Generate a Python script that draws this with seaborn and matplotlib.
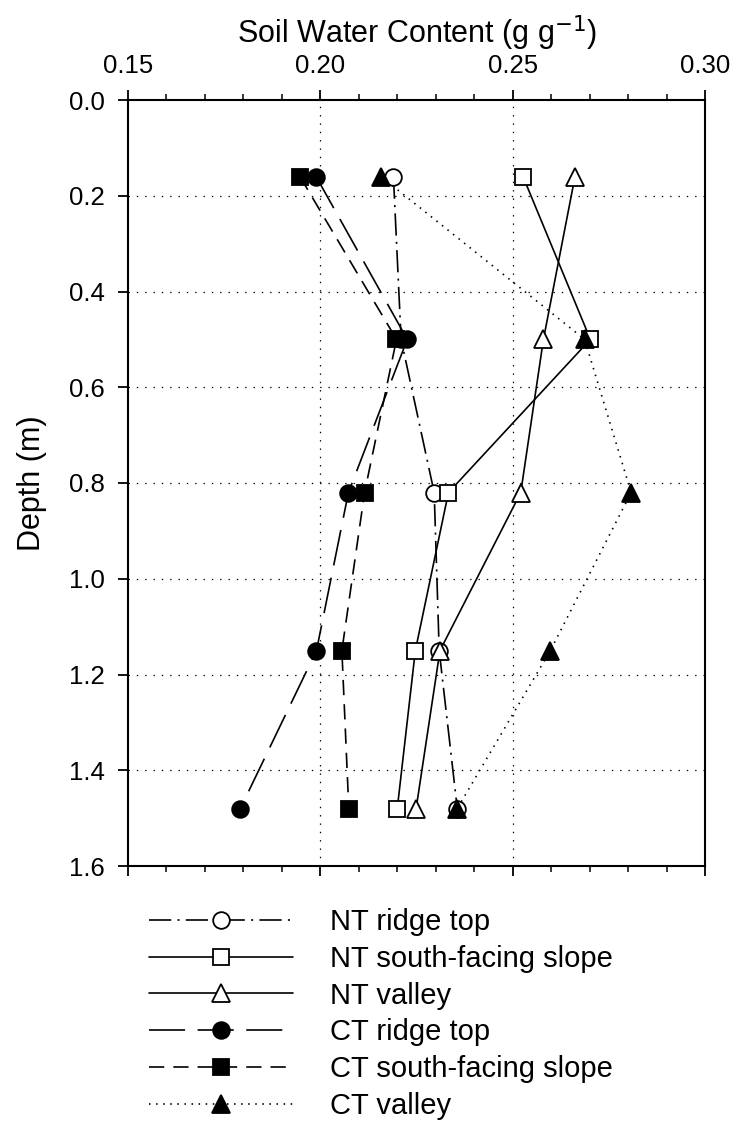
import matplotlib
matplotlib.use("Agg")
import matplotlib.pyplot as plt
import seaborn as sns
import numpy as np
from matplotlib.ticker import MultipleLocator

# ---- data ----
depth = [0.16, 0.50, 0.82, 1.15, 1.48]
nt_ridge = [0.219, 0.221, 0.2296, 0.2309, 0.2356]
nt_south = [0.2527, 0.2702, 0.2333, 0.2247, 0.2200]
nt_valley = [0.2662, 0.2580, 0.2521, 0.2311, 0.2249]
ct_ridge = [0.1989, 0.2226, 0.2073, 0.1990, 0.1792]
ct_south = [0.1947, 0.2198, 0.2115, 0.2056, 0.2074]
ct_valley = [0.2158, 0.2687, 0.2808, 0.2598, 0.2356]
labels = ["NT ridge top", "NT south-facing slope", "NT valley",
          "CT ridge top", "CT south-facing slope", "CT valley"]
x_ticks = [0.15, 0.20, 0.25, 0.30]
y_ticks = [0.0, 0.2, 0.4, 0.6, 0.8, 1.0, 1.2, 1.4, 1.6]

sns.set_theme(style="white")
plt.rcParams["font.family"] = ["Liberation Sans", "DejaVu Sans"]
plt.rcParams["lines.scale_dashes"] = False
plt.rcParams["text.color"] = "black"
plt.rcParams["axes.labelcolor"] = "black"
plt.rcParams["xtick.color"] = "black"
plt.rcParams["ytick.color"] = "black"
TICK_FS = 18.5
LAB_FS = 22
LEG_FS = 21

fig = plt.figure(figsize=(7.34, 11.24), dpi=100)
ax = fig.add_axes([128/734, 1-866/1124, (705-128)/734, (866-100)/1124])

series = [nt_ridge, nt_south, nt_valley, ct_ridge, ct_south, ct_valley]
markers = ["o", "s", "^", "o", "s", "^"]
faces = ["white", "white", "white", "black", "black", "black"]
styles = [(0, (16, 4.5, 1.5, 4.5)), "-", "-", (0, (26, 9)), (0, (11, 6.5)), (0, (1.1, 4))]
msizes = [12, 11, 12.5, 12, 11, 12.5]

for vals, lab, mk, fc, ls, ms in zip(series, labels, markers, faces, styles, msizes):
    sns.lineplot(x=vals, y=depth, sort=False, estimator=None, ax=ax,
                 color="black", linewidth=1.2, linestyle=ls, marker=mk,
                 markersize=ms, markerfacecolor=fc, markeredgecolor="black",
                 markeredgewidth=1.3, label=lab)

ax.set_xlim(0.15, 0.30)
ax.set_ylim(1.6, 0.0)
ax.set_xticks(x_ticks)
ax.set_xticklabels([f"{v:.2f}" for v in x_ticks])
ax.set_yticks(y_ticks)
ax.set_yticklabels([f"{v:.1f}" for v in y_ticks])
ax.xaxis.set_minor_locator(MultipleLocator(0.01))
ax.xaxis.tick_top()
ax.xaxis.set_label_position("top")
ax.tick_params(axis="x", which="both", top=True, bottom=True, labeltop=True,
               labelbottom=False, direction="out", labelsize=TICK_FS, color="black", pad=8)
ax.tick_params(axis="x", which="major", length=7.5, width=1.3)
ax.tick_params(axis="x", which="minor", length=4, width=1.1)
ax.tick_params(axis="y", which="major", left=True, right=False, direction="out",
               length=7.5, width=1.3, labelsize=TICK_FS, pad=9)
ax.set_xlabel("Soil Water Content (g g$^{-1}$)", fontsize=LAB_FS, labelpad=8)
ax.set_ylabel("Depth (m)", fontsize=LAB_FS, labelpad=16)

for v in [0.20, 0.25]:
    ax.axvline(v, color="black", linewidth=0.9, linestyle=(0, (1, 5)), zorder=0)
for v in y_ticks[1:-1]:
    ax.axhline(v, color="black", linewidth=0.9, linestyle=(0, (1, 5)), zorder=0)

for sp in ax.spines.values():
    sp.set_color("black")
    sp.set_linewidth(1.5)

handles, labs = ax.get_legend_handles_labels()
ax.legend(handles, labs, loc="center left", bbox_to_anchor=(149/734, 1-1014/1124),
          bbox_transform=fig.transFigure, frameon=False, fontsize=LEG_FS,
          handlelength=4.93, handletextpad=1.27, labelspacing=0.3, borderpad=0,
          borderaxespad=0, numpoints=1)

fig.savefig("out.png", dpi=100)
